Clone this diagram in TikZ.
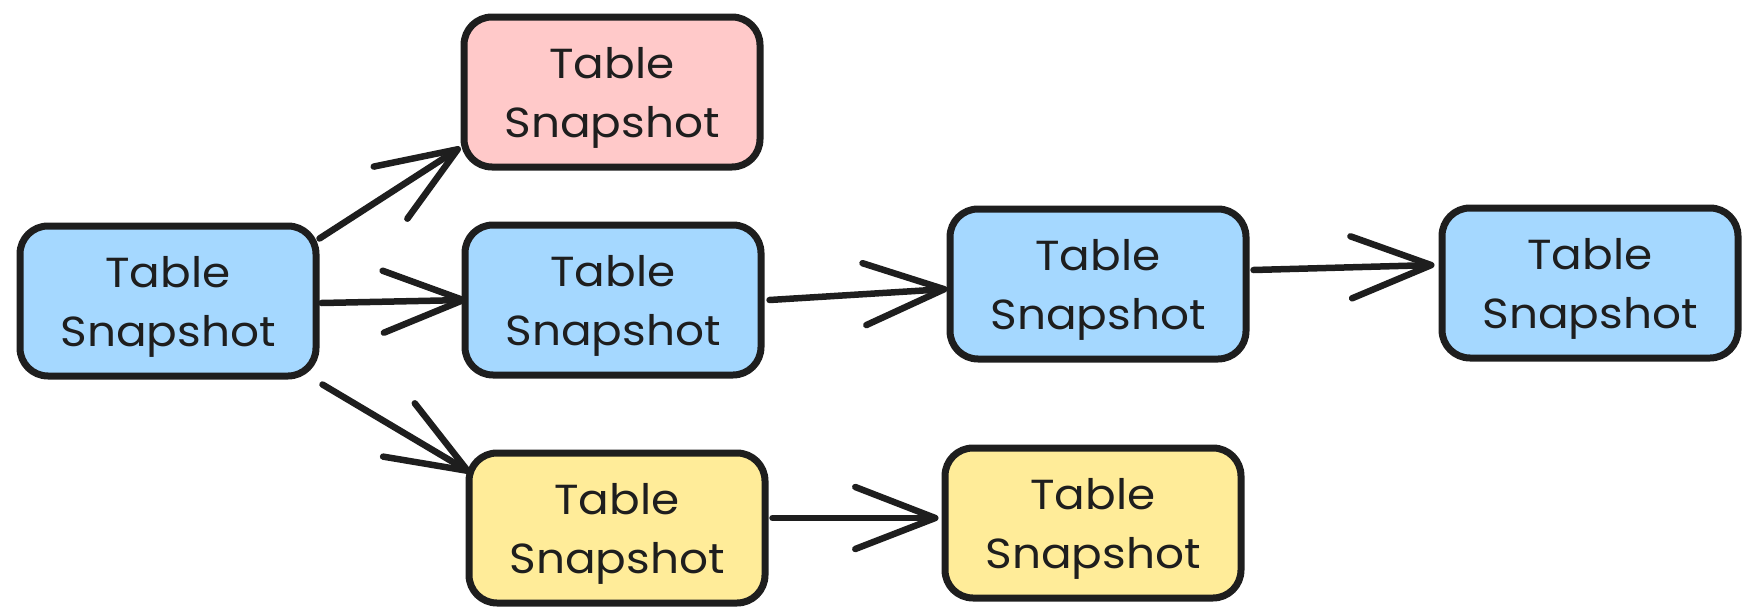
\documentclass[tikz,border=0pt]{standalone}
\usepackage{fontspec}
\setmainfont{Poppins}[FakeStretch=1.08]
\usetikzlibrary{arrows.meta}
\definecolor{ink}{HTML}{1E1E1E}
\definecolor{snapblue}{HTML}{A5D8FF}
\definecolor{snappink}{HTML}{FFC9C9}
\definecolor{snapyellow}{HTML}{FFEC99}
\tikzset{
  snapbox/.style={draw=ink, line width=7pt, rounded corners=28pt,
    minimum width=296pt, minimum height=150pt, inner sep=0pt},
  snaptext/.style={text=ink, align=center, yshift=-6pt,
    font=\fontsize{42}{59}\selectfont},
  link/.style={draw=ink, line width=6.5pt, line cap=round,
    -{Straight Barb[length=80pt, width=62pt, round]}},
}
\begin{document}
\begin{tikzpicture}[x=1pt, y=-1pt]
  \useasboundingbox (0,0) rectangle (1743,613);

  % snapshot boxes
  \node[snapbox, fill=snapblue]   (A) at (168,301) {};
  \node[snapbox, fill=snappink]   (B) at (612,92)  {};
  \node[snapbox, fill=snapblue]   (C) at (613,300) {};
  \node[snapbox, fill=snapblue]   (D) at (1098,284) {};
  \node[snapbox, fill=snapblue]   (E) at (1590,283) {};
  \node[snapbox, fill=snapyellow] (F) at (617,528) {};
  \node[snapbox, fill=snapyellow] (G) at (1093,523) {};

  % labels
  \foreach \n in {A,B,C,D,E,F,G}
    \node[snaptext] (\n-text) at (\n.center) {Table\\Snapshot};

  % lineage arrows
  \draw[link] ([yshift=-16pt]A.north east) -- ([yshift=23pt]B.south west);
  \draw[link] ([xshift=2pt,yshift=-2pt]A.east) -- ([xshift=5pt]C.west);
  \draw[link] ([xshift=3pt,yshift=-5pt]A.south east) -- ([xshift=5pt,yshift=-23pt]F.north west);
  \draw[link] ([xshift=5pt]C.east) -- ([xshift=1pt,yshift=-5pt]D.west);
  \draw[link] ([xshift=4pt,yshift=14pt]D.east) -- ([xshift=-4pt,yshift=18pt]E.west);
  \draw[link] ([xshift=4pt,yshift=10pt]F.east) -- ([xshift=-3pt,yshift=5pt]G.west);
\end{tikzpicture}
\end{document}
